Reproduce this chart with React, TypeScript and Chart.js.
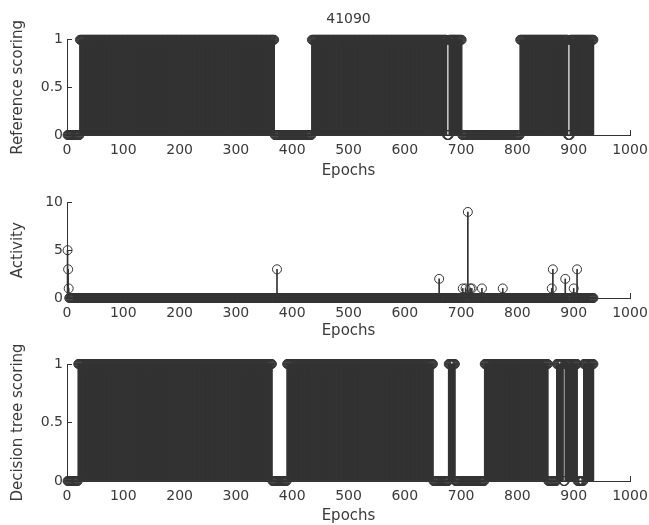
import React, { useEffect, useRef } from "react";
import { Chart, registerables } from "chart.js";

Chart.register(...registerables);

// ---------------- data ----------------
const EPOCH_COUNT = 935;
const xTickValues = [0, 100, 200, 300, 400, 500, 600, 700, 800, 900, 1000];

// Reference scoring: runs (first epoch of each run, value of the run)
const refRunStarts = [1, 23, 369, 435, 675, 679, 702, 805, 890, 894];
const refRunValues = [0, 1, 0, 1, 0, 1, 0, 1, 0, 1];

// Activity: every epoch is 0 except these
const activityEpochs = [1, 2, 3, 373, 661, 703, 708, 712, 716, 719, 737, 774, 861, 863, 885, 900, 906];
const activityValues = [5, 3, 1, 3, 2, 1, 1, 9, 1, 1, 1, 1, 1, 3, 2, 1, 3];

// Decision tree scoring: runs
const treeRunStarts = [1, 20, 365, 391, 651, 678, 690, 742, 855, 870, 882, 885, 907, 918];
const treeRunValues = [0, 1, 0, 1, 0, 1, 0, 1, 0, 1, 0, 1, 0, 1];

// ---------------- tables for the library ----------------
function runsToSeries(starts: number[], values: number[], n: number) {
  const out: { x: number; y: number }[] = [];
  for (let e = 1; e <= n; e++) {
    let v = 0;
    for (let k = 0; k < starts.length; k++) if (e >= starts[k]) v = values[k];
    out.push({ x: e, y: v });
  }
  return out;
}
function sparseToSeries(epochs: number[], values: number[], n: number) {
  const out: { x: number; y: number }[] = [];
  for (let e = 1; e <= n; e++) {
    const k = epochs.indexOf(e);
    out.push({ x: e, y: k >= 0 ? values[k] : 0 });
  }
  return out;
}

const INK = "#333333";
const TEXT = "#3a3a3a";
const FONT = "'DejaVu Sans', sans-serif";

type Panel = {
  series: { x: number; y: number }[];
  yMax: number;
  yStep: number;
  yTitle: string;
  title?: string;
  padTop: number;
  xAxisHeight: number;
  epochsPad: number;
};

function makeConfig(p: Panel): any {
  return {
    type: "bar",
    data: {
      datasets: [
        {
          type: "scatter",
          data: p.series,
          pointStyle: "circle",
          pointRadius: 4.5,
          pointBorderWidth: 1,
          borderColor: INK,
          backgroundColor: "rgba(0,0,0,0)",
          pointBackgroundColor: "rgba(0,0,0,0)",
          clip: false,
          order: 1,
        },
        {
          type: "bar",
          data: p.series,
          backgroundColor: INK,
          borderWidth: 0,
          barThickness: 1,
          grouped: false,
          clip: false,
          order: 2,
        },
      ],
    },
    options: {
      responsive: false,
      animation: false,
      events: [],
      layout: { padding: { left: 0, right: 19, top: p.padTop, bottom: 0 } },
      plugins: {
        legend: { display: false },
        tooltip: { enabled: false },
        title: p.title
          ? {
              display: true,
              text: p.title,
              fullSize: false,
              color: TEXT,
              font: { family: FONT, size: 14, weight: "normal" },
              padding: { top: 11, bottom: 12 },
            }
          : { display: false },
      },
      scales: {
        x: {
          type: "linear",
          min: 0,
          max: 1000,
          offset: false,
          afterBuildTicks: (s: any) => {
            s.ticks = xTickValues.map((v) => ({ value: v }));
          },
          afterFit: (s: any) => {
            s.height = p.xAxisHeight;
            s.paddingLeft = 0;
            s.paddingRight = 0;
          },
          grid: {
            offset: false,
            drawOnChartArea: false,
            drawTicks: true,
            tickLength: -5,
            color: INK,
            lineWidth: 1,
          },
          border: { display: true, color: INK, width: 1 },
          ticks: {
            autoSkip: false,
            maxRotation: 0,
            padding: 12,
            color: TEXT,
            font: { family: FONT, size: 14 },
            callback: (v: any) => String(v),
          },
          title: {
            display: true,
            text: "Epochs",
            color: TEXT,
            font: { family: FONT, size: 15 },
            padding: { top: 0, bottom: p.epochsPad },
          },
        },
        y: {
          type: "linear",
          min: 0,
          max: p.yMax,
          afterFit: (s: any) => {
            s.width = 67;
          },
          grid: {
            drawOnChartArea: false,
            drawTicks: true,
            tickLength: -5,
            color: INK,
            lineWidth: 1,
          },
          border: { display: true, color: INK, width: 1 },
          ticks: {
            stepSize: p.yStep,
            padding: 9,
            color: TEXT,
            font: { family: FONT, size: 14 },
            callback: (v: any) => String(v),
          },
          title: {
            display: true,
            text: p.yTitle,
            color: TEXT,
            font: { family: FONT, size: 15 },
            padding: { top: 9, bottom: 0 },
          },
        },
      },
    },
  };
}

function PanelChart({ panel, top, height }: { panel: Panel; top: number; height: number }) {
  const ref = useRef<HTMLCanvasElement | null>(null);
  useEffect(() => {
    if (!ref.current) return;
    const chart = new Chart(ref.current, makeConfig(panel));
    return () => chart.destroy();
  }, []);
  return (
    <canvas
      ref={ref}
      width={649}
      height={height}
      style={{ position: "absolute", left: 0, top, width: 649, height }}
    />
  );
}

export default function App() {
  const refSeries = runsToSeries(refRunStarts, refRunValues, EPOCH_COUNT);
  const actSeries = sparseToSeries(activityEpochs, activityValues, EPOCH_COUNT);
  const treeSeries = runsToSeries(treeRunStarts, treeRunValues, EPOCH_COUNT);
  return (
    <div
      style={{
        position: "fixed",
        left: 0,
        top: 0,
        width: 649,
        height: 525,
        background: "#ffffff",
        overflow: "hidden",
      }}
    >
      <PanelChart
        top={0}
        height={185}
        panel={{
          series: refSeries,
          yMax: 1,
          yStep: 0.5,
          yTitle: "Reference scoring",
          title: "41090",
          padTop: 0,
          xAxisHeight: 50,
          epochsPad: 5,
        }}
      />
      <PanelChart
        top={185}
        height={160}
        panel={{
          series: actSeries,
          yMax: 10,
          yStep: 5,
          yTitle: "Activity",
          padTop: 16,
          xAxisHeight: 47,
          epochsPad: 5,
        }}
      />
      <PanelChart
        top={345}
        height={180}
        panel={{
          series: treeSeries,
          yMax: 1,
          yStep: 0.5,
          yTitle: "Decision tree scoring",
          padTop: 19,
          xAxisHeight: 44,
          epochsPad: 0,
        }}
      />
    </div>
  );
}
